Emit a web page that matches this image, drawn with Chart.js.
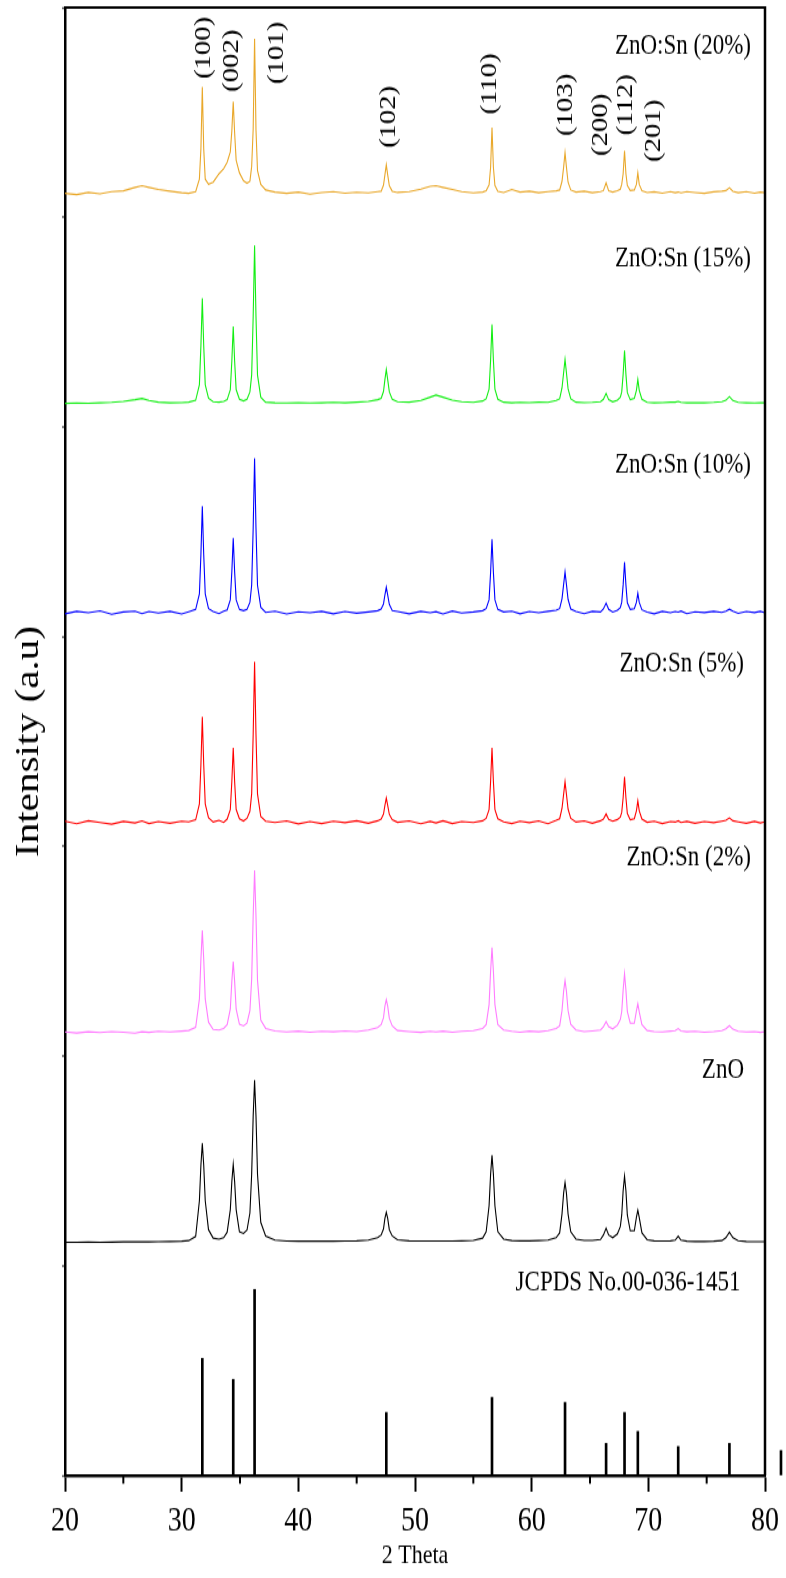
<!DOCTYPE html>
<html><head><meta charset="utf-8">
<script src="https://cdn.jsdelivr.net/npm/chart.js@4.4.1/dist/chart.umd.min.js"></script>
<style>html,body{margin:0;padding:0;background:#fff;overflow:hidden}canvas{display:block}</style>
</head><body>
<canvas id="c" width="786" height="1262" style="width:786px;height:1578px"></canvas>
<script>
// ---- data (2θ grid shared by all measured patterns, intensities in a.u. above each pattern's baseline)
const twoTheta = [20,21,22,23,24,25,26,26.6,27.2,28,29,30,30.6,31.2,
31.52,31.65,31.77,31.89,32.02,32.3,
32.7,33.2,33.6,33.9,
34.17,34.3,34.42,34.54,34.67,34.95,
35.3,35.6,35.85,
36.0,36.13,36.25,36.37,36.5,36.78,
37.2,38,39,40,41,42,43,44,45,46,46.8,
47.1,47.3,47.42,47.54,47.66,47.8,48.05,
48.5,49.5,50.5,51.3,51.8,52.4,53.2,54,55,55.8,
56.1,56.35,56.48,56.6,56.72,56.85,57.1,
57.6,58.3,59,59.8,60.6,61.4,62.1,
62.4,62.6,62.74,62.86,62.98,63.12,63.35,
63.8,64.5,65.2,65.9,
66.15,66.38,66.6,
66.95,67.35,
67.6,67.72,67.84,67.96,68.08,68.2,68.45,
68.8,68.98,69.1,69.22,69.45,
69.9,70.5,71.2,71.9,
72.3,72.56,72.8,
73.3,74,74.8,75.6,76.3,
76.65,76.95,77.25,
77.7,78.4,79.1,79.6,80];

const intZnO = [0,0,1,0,1,2,2,3,2,3,4,5,8,28,
198,368,472,368,198,60,
20,15,22,48,
156,290,372,290,156,50,
42,58,140,
325,603,773,603,325,95,
30,10,6,5,5,5,5,6,7,10,22,
35,64,114,143,114,60,30,
12,7,6,6,6,6,6,7,9,20,
50,174,324,415,324,174,50,
15,8,7,7,8,10,22,
45,135,235,286,235,135,50,
15,9,9,13,
35,67,35,
22,40,
75,130,246,315,246,130,55,
55,120,153,118,45,
12,7,6,7,
10,29,10,
5,4,4,5,8,
22,48,22,
7,4,3,3,3];

const intSn2 = [3,-2,4,0,5,2,-3,4,1,6,3,7,10,25,
160,350,487,350,160,50,
15,12,20,38,
112,244,339,244,112,40,
32,45,105,
255,557,773,557,250,60,
20,8,3,7,2,6,4,8,5,12,24,
38,71,126,157,126,68,32,
10,5,1,6,3,7,2,6,9,20,
38,134,292,405,292,134,38,
12,6,2,7,4,9,20,
32,105,198,248,198,105,40,
12,5,8,12,
28,52,28,
18,35,
62,100,202,281,202,100,45,
45,104,138,99,38,
10,5,3,7,
9,19,8,
4,6,2,5,9,
18,33,16,
6,3,5,1,4];

const intSn5 = [8,-4,10,2,-6,7,0,9,-3,6,-2,8,5,15,
91,278,506,278,91,25,
4,12,2,18,
64,197,358,197,64,20,
9,22,55,
138,422,768,422,138,30,
8,2,9,-5,6,-3,8,1,10,-2,10,
18,42,83,119,83,40,15,
3,9,-4,7,0,10,-3,6,2,10,
22,64,197,358,197,64,20,
5,-3,8,1,9,-4,12,
20,69,137,196,137,66,22,
4,9,-2,10,
18,43,16,
8,16,
28,50,120,219,120,45,15,
20,58,105,58,18,
3,8,-3,6,
4,10,2,
7,-2,6,1,8,
12,24,10,
5,-2,7,0,5];

const intSn10 = [-3,9,2,11,-5,6,10,-2,8,1,9,-4,7,18,
92,280,510,280,92,22,
8,-2,10,16,
64,197,358,197,64,18,
12,18,52,
133,406,739,406,133,28,
4,10,-4,7,2,9,-3,8,0,6,12,
20,44,87,124,87,42,12,
8,-3,9,2,7,-4,10,1,6,12,
22,64,194,353,194,64,18,
6,10,-3,8,2,9,14,
22,69,137,196,137,66,20,
8,-2,9,6,
20,48,18,
5,14,
26,52,134,243,134,50,18,
22,52,95,52,16,
5,-3,9,2,
8,5,10,
-2,7,3,9,4,
10,19,9,
-1,8,3,9,2];

const intSn15 = [0,2,1,3,5,10,18,24,14,6,3,4,6,15,
90,276,501,276,90,25,
8,6,10,18,
66,202,367,202,66,20,
12,20,55,
136,415,754,415,136,30,
6,3,2,4,2,3,5,3,6,10,18,
25,57,113,162,113,55,20,
8,6,14,30,40,30,16,8,5,12,
22,68,207,377,207,68,20,
6,3,5,4,6,5,14,
22,74,147,210,147,70,22,
6,4,5,8,
20,48,18,
8,16,
30,55,139,253,139,52,18,
24,63,114,63,20,
5,3,4,6,
6,10,5,
3,4,3,5,8,
15,33,14,
5,3,2,4,3];

const intSn20 = [2,-4,6,0,10,14,30,38,30,20,12,5,2,10,
70,215,510,215,70,45,
55,95,120,150,
200,300,439,290,160,100,
62,50,60,
130,310,739,305,110,45,
18,8,2,8,-2,6,10,3,7,4,10,
12,41,90,138,90,38,12,
6,10,22,35,38,30,20,10,4,8,
14,42,126,315,126,40,12,
6,20,8,12,5,10,14,
18,59,127,196,127,55,18,
8,12,5,10,
15,52,14,
8,14,
22,45,95,205,95,40,15,
18,45,100,45,14,
6,9,3,10,
5,8,4,
10,6,2,9,12,
15,29,12,
5,10,3,8,5];

// JCPDS 00-036-1451 reference lines
const jcpdsTheta = [31.77,34.42,36.25,47.54,56.60,62.86,66.38,67.96,69.10,72.56,76.95,81.37];
const jcpdsInt   = [558,458,887,300,372,348,153,300,210,138,153,119];

const sampleNames = ['ZnO:Sn (20%)','ZnO:Sn (15%)','ZnO:Sn (10%)','ZnO:Sn (5%)','ZnO:Sn (2%)','ZnO','JCPDS No.00-036-1451'];
const hklLabels = ['(100)','(002)','(101)','(102)','(110)','(103)','(200)','(112)','(201)'];
const xTickValues = [20,30,40,50,60,70,80];
const xMinorTicks = [25,35,45,55,65,75];

// stacking: each pattern sits in its own band of 1000 a.u.
const bandStep = 1000, bandBase = 112;

// ---- build chart
const series = [
  {name: 'ZnO', vals: intZnO, color: '#000000', band: 1},
  {name: 'ZnO:Sn (2%)', vals: intSn2, color: '#FF7CFF', band: 2},
  {name: 'ZnO:Sn (5%)', vals: intSn5, color: '#FF0000', band: 3},
  {name: 'ZnO:Sn (10%)', vals: intSn10, color: '#0000FF', band: 4},
  {name: 'ZnO:Sn (15%)', vals: intSn15, color: '#14EE14', band: 5},
  {name: 'ZnO:Sn (20%)', vals: intSn20, color: '#E9A82B', band: 6}
];

const datasets = [{
  type: 'bar',
  label: 'JCPDS',
  data: jcpdsTheta.map((t, i) => ({x: t, y: jcpdsInt[i]})),
  backgroundColor: '#000',
  barThickness: 2,
  grouped: false,
  clip: false,
  order: 10
}].concat(series.map(s => ({
  type: 'line',
  label: s.name,
  data: twoTheta.map((t, i) => ({x: t, y: s.vals[i] + s.band * bandStep + bandBase})),
  borderColor: s.color,
  borderWidth: 1.1,
  pointRadius: 0,
  tension: 0,
  fill: false
})));

const SERIF = '"Liberation Serif", "Times New Roman", serif';

const annotations = {
  id: 'annotations',
  afterDraw(chart, args, opts) {
    const {ctx, chartArea: a, scales: {x, y}} = chart;
    ctx.save();
    ctx.strokeStyle = '#000';
    // top and right frame
    ctx.lineWidth = 2;
    ctx.beginPath(); ctx.moveTo(a.left - 1, a.top); ctx.lineTo(a.right + 1, a.top); ctx.stroke();
    ctx.lineWidth = 2.5;
    ctx.beginPath(); ctx.moveTo(a.right, a.top - 1); ctx.lineTo(a.right, a.bottom); ctx.stroke();
    // minor x ticks
    ctx.lineWidth = 2;
    xMinorTicks.forEach(v => {
      const px = x.getPixelForValue(v);
      ctx.beginPath(); ctx.moveTo(px, a.bottom); ctx.lineTo(px, a.bottom + 6.5); ctx.stroke();
    });
    // sample labels
    ctx.fillStyle = '#000';
    ctx.font = '23px ' + SERIF;
    ctx.textAlign = 'right';
    ctx.textBaseline = 'middle';
    sampleNames.forEach((t, i) => {
      const p = opts.samplePos[i];
      ctx.fillText(t, x.getPixelForValue(p[0]), y.getPixelForValue(p[1]));
    });
    // hkl labels, rotated
    ctx.textAlign = 'center';
    hklLabels.forEach((t, i) => {
      const p = opts.hklPos[i];
      ctx.save();
      ctx.translate(x.getPixelForValue(p[0]), y.getPixelForValue(p[1]));
      ctx.rotate(-Math.PI / 2);
      ctx.fillText(t, 0, 0);
      ctx.restore();
    });
    ctx.restore();
  }
};

new Chart(document.getElementById('c'), {
  type: 'line',
  data: {datasets},
  plugins: [annotations],
  options: {
    responsive: false,
    devicePixelRatio: 1,
    animation: false,
    layout: {padding: {left: 0, right: 19, top: 6, bottom: 0}},
    plugins: {
      legend: {display: false},
      tooltip: {enabled: false},
      annotations: {
        samplePos: [[78.8, 6813], [78.8, 5802], [78.8, 4819], [78.2, 3869], [78.8, 2944], [78.2, 1932], [77.9, 916]],
        hklPos: [[31.9, 6808], [34.3, 6746], [38.2, 6784], [47.8, 6479], [56.45, 6636], [62.95, 6536], [65.95, 6441], [68.05, 6536], [70.5, 6412]]
      }
    },
    scales: {
      x: {
        type: 'linear', position: 'bottom', min: 20, max: 80, offset: false,
        afterBuildTicks: s => { s.ticks = xTickValues.map(v => ({value: v})); },
        afterFit: s => { s.height = 82; },
        ticks: {font: {family: SERIF, size: 28}, color: '#000', padding: 7, maxRotation: 0, autoSkip: false},
        grid: {offset: false, drawOnChartArea: false, drawTicks: true, tickLength: 13, tickWidth: 2, tickColor: '#000'},
        border: {display: true, color: '#000', width: 2.5},
        title: {display: true, text: '2 Theta', color: '#000', font: {family: SERIF, size: 22}, padding: {top: 0, bottom: 5}}
      },
      y: {
        type: 'linear', position: 'left', min: 0, max: 7000,
        afterFit: s => { s.width = 65; },
        ticks: {display: false, stepSize: 1000},
        grid: {drawOnChartArea: false, drawTicks: true, tickLength: 3, tickWidth: 1.5, tickColor: '#555'},
        border: {display: true, color: '#000', width: 2.5},
        title: {display: true, text: 'Intensity (a.u)', color: '#000', font: {family: SERIF, size: 33}, padding: {top: 10, bottom: 0}}
      }
    }
  }
});
</script>
</body></html>
